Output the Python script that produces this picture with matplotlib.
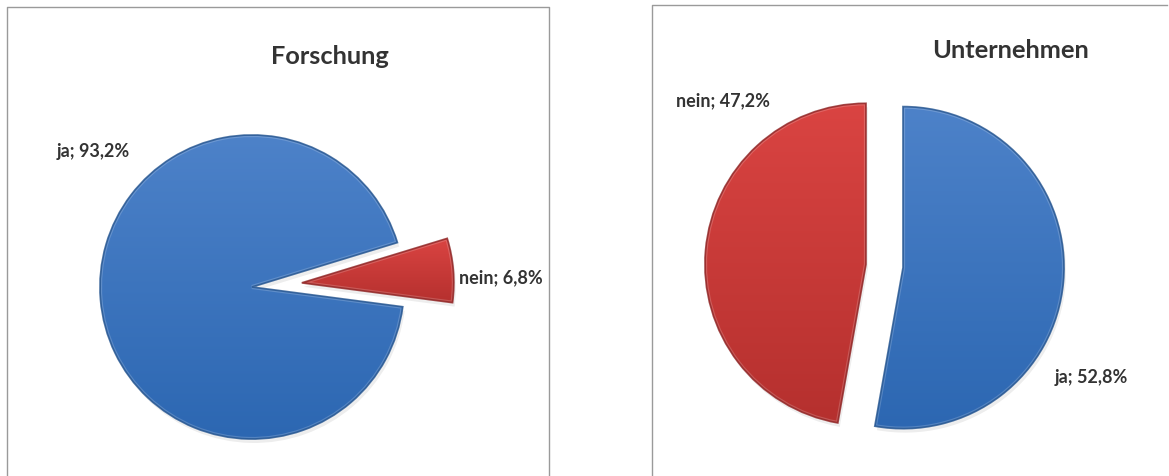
import numpy as np
import matplotlib
matplotlib.use("Agg")
import matplotlib.pyplot as plt
from matplotlib.colors import LinearSegmentedColormap
from matplotlib.patches import PathPatch

# ---- data ----
titles = ["Forschung", "Unternehmen"]
categories = ["ja", "nein"]
forschung_values = [93.2, 6.8]
unternehmen_values = [52.8, 47.2]

W, H = 1169, 477
fig = plt.figure(figsize=(W / 100, H / 100), dpi=100)
ax = fig.add_axes([0, 0, 1, 1])

FONT = "Lato"
TXT = "#333333"

blue_top, blue_bot, blue_edge = "#4D82C9", "#2C67B2", "#24548F"
red_top, red_bot, red_edge = "#DA4442", "#B5302E", "#8E2424"
colors = [(blue_top, blue_bot, blue_edge), (red_top, red_bot, red_edge)]


def fmt(cat, v):
    return f"{cat}; {str(v).replace('.', ',')}%"


def draw_pie(values, center, radius, explode, startangle, counterclock):
    # soft shadow
    ax.pie(values, center=(center[0] + 2, center[1] - 4), radius=radius,
           explode=explode, startangle=startangle, counterclock=counterclock,
           colors=["#000000"] * len(values), wedgeprops=dict(alpha=0.07, lw=0),
           frame=True)
    wedges, _ = ax.pie(values, center=center, radius=radius, explode=explode,
                       startangle=startangle, counterclock=counterclock,
                       colors=[c[1] for c in colors],
                       wedgeprops=dict(edgecolor="none", lw=0), frame=True)
    for w, (ct, cb, ce) in zip(wedges, colors):
        ext = w.get_path().get_extents()
        cmap = LinearSegmentedColormap.from_list("g", [cb, ct])
        grad = np.linspace(0, 1, 256).reshape(-1, 1)
        im = ax.imshow(grad, cmap=cmap, origin="lower", aspect="auto",
                       extent=(ext.x0, ext.x1, ext.y0, ext.y1), zorder=2)
        im.set_clip_path(w)
        w.set_zorder(1)
        ax.add_patch(PathPatch(w.get_path(), fill=False, edgecolor=ce, lw=1.3,
                               zorder=3, alpha=0.8))
        ax.add_patch(PathPatch(w.get_path(), fill=False, edgecolor="white", lw=3.0,
                               zorder=2.5, alpha=0.18))
    return wedges


# explode given in data (pixel) units, as matplotlib applies it absolutely
draw_pie(forschung_values, center=(252, 189), radius=152, explode=[0, 50],
         startangle=17, counterclock=True)
draw_pie(unternehmen_values, center=(884.5, 210), radius=161, explode=[18.6, 18.6],
         startangle=90, counterclock=False)

ax.set_xlim(0, W)
ax.set_ylim(0, H)
ax.set_aspect("auto")
ax.axis("off")

# panel borders
ax.plot([7, 7, 549, 549], [0, 469, 469, 0], color="#9a9a9a", lw=1.0)
ax.plot([652, 652, 1167], [0, 471, 471], color="#9a9a9a", lw=1.0)

# titles
ax.text(329.5, 420, titles[0], ha="center", va="center", fontsize=18.3,
        fontweight="bold", family=FONT, color=TXT)
ax.text(1011, 427, titles[1], ha="center", va="center", fontsize=18.3,
        fontweight="bold", family=FONT, color=TXT)

# data labels
lab_kw = dict(ha="left", va="center", fontsize=13, fontweight="bold",
              family=FONT, color=TXT)
ax.text(57, 325, fmt(categories[0], forschung_values[0]), **lab_kw)
ax.text(459, 199, fmt(categories[1], forschung_values[1]), **lab_kw)
ax.text(676, 376, fmt(categories[1], unternehmen_values[1]), **lab_kw)
ax.text(1055, 99, fmt(categories[0], unternehmen_values[0]), **lab_kw)

fig.savefig("out.png", dpi=100)
